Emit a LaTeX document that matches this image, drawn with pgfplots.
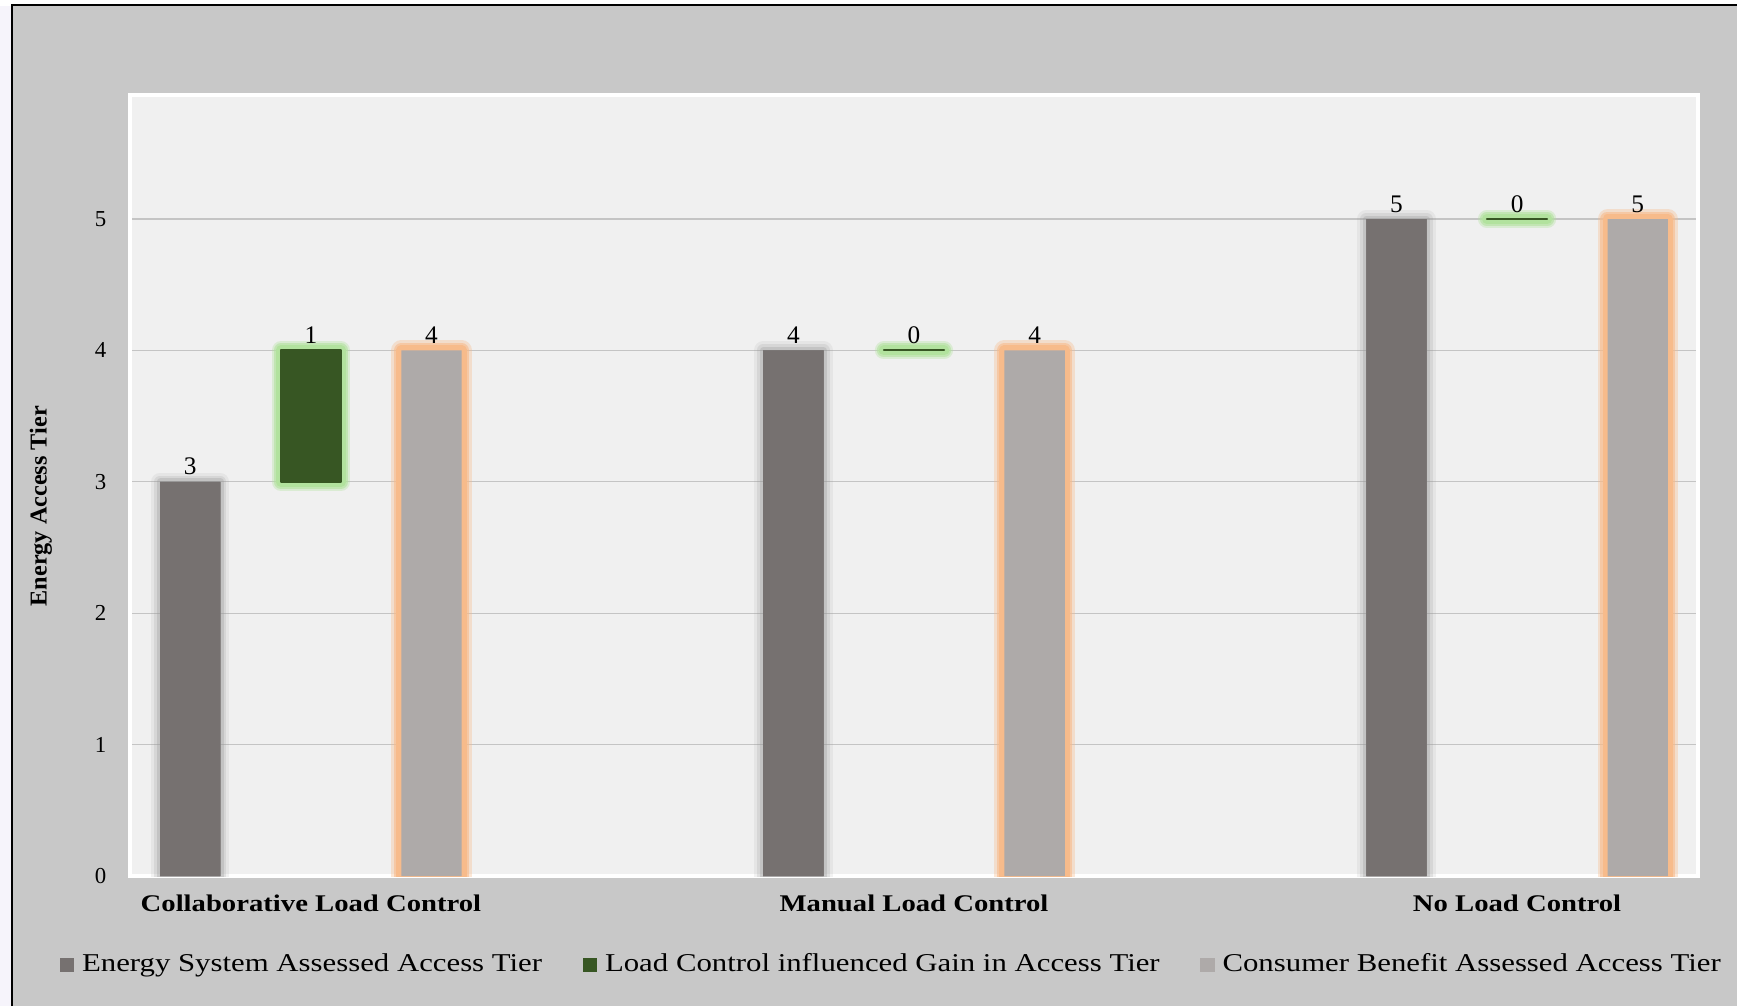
\documentclass[border=0pt]{standalone}
\usepackage{pgfplots}
\pgfplotsset{compat=1.18}
\usepackage{fontspec}
\setmainfont{Liberation Serif}[FakeStretch=1.2]
\newfontfamily\plainserif{Liberation Serif}

\definecolor{chartbg}{HTML}{C8C8C8}
\definecolor{panelbg}{HTML}{F0F0F0}
\definecolor{edgewash}{HTML}{F6F4FB}
\definecolor{systier}{HTML}{767170}
\definecolor{gaintier}{HTML}{375623}
\definecolor{benefittier}{HTML}{AEAAA9}
\definecolor{gainglow}{HTML}{B2E29E}
\definecolor{benefitglow}{HTML}{F7BB8B}
\definecolor{sysshadow}{HTML}{9A9A9A}
\definecolor{gridgray}{HTML}{C4C4C4}

\newcommand\tickfont{\plainserif\fontsize{6.5pt}{7pt}\selectfont}
\newcommand\valfont{\plainserif\fontsize{7.2pt}{8pt}\selectfont}
\newcommand\catfont{\fontsize{6.8pt}{8pt}\selectfont\bfseries}
\newcommand\legfont{\fontsize{7.3pt}{8.5pt}\selectfont}
\newcommand\ylabfont{\plainserif\fontsize{6.9pt}{8pt}\selectfont\bfseries}

\pgfplotsset{
  tierbar/.style={ybar, bar width=0.1, bar shift=0pt},
  % soft halo drawn underneath each bar
  halo/.style n args={3}{
    preaction={draw=#1, draw opacity=#2, line width=#3, line join=round},
  },
  valuelabels/.style={
    nodes near coords,
    nodes near coords style={font=\valfont, text=black, inner sep=0pt, anchor=south, yshift=0.6mm},
  },
  gainbar/.style={fill=gaintier, draw=gaintier, line width=0.2mm, line join=round, mark=none,
    halo={gainglow}{0.35}{1.8mm}, halo={gainglow}{0.6}{1.4mm}, halo={gainglow}{1}{1.0mm}},
}

\begin{document}
\begin{tikzpicture}
\useasboundingbox (0,0) rectangle (173.7mm,100.6mm);
\fill[white] (0,0) rectangle (173.7mm,100.6mm);
\fill[edgewash] (0,0) rectangle (1.15mm,100.0mm);
\fill[chartbg] (1.2mm,0) rectangle (173.7mm,100.1mm);
\draw[black, line width=0.22mm] (1.2mm,0) -- (1.2mm,100.1mm) -- (173.7mm,100.1mm);

% categories at x = 0 (collaborative), 1 (manual), 2 (no load control)
\begin{axis}[
  at={(13mm,13mm)}, anchor=south west,
  scale only axis, width=156.8mm, height=78.1mm,
  xmin=-0.3, xmax=2.3, ymin=0, ymax=5.944,
  axis background/.style={fill=panelbg},
  axis line style={draw=white, line width=0.45mm},
  ymajorgrids, major grid style={draw=gridgray, line width=0.12mm},
  ytick={0,1,2,3,4,5},
  major tick length=0pt,
  xtick={0,1,2},
  xticklabels={Collaborative Load Control, Manual Load Control, No Load Control},
  xticklabel style={font=\catfont, anchor=north, inner sep=0pt, yshift=-1.8mm},
  yticklabel style={font=\tickfont, anchor=east, inner sep=0pt, xshift=-2.3mm},
  /pgf/number format/assume math mode=true,
  ylabel={Energy Access Tier},
  ylabel style={font=\ylabfont, at={(axis description cs:-0.0568,0.4735)}, anchor=center},
  legend columns=3,
  legend image code/.code={\fill[#1, draw=none] (0mm,-0.72mm) rectangle (1.44mm,0.72mm);},
  legend style={at={(axis description cs:-0.0453,-0.114)}, anchor=west,
    draw=none, fill=none, inner sep=0pt, font=\legfont,
    nodes={inner sep=0pt},
    /tikz/every odd column/.append style={column sep=0.8mm},
    /tikz/every even column/.append style={column sep=4.05mm}},
]
\addlegendimage{fill=systier}
\addlegendentry{Energy System Assessed Access Tier}
\addlegendimage{fill=gaintier}
\addlegendentry{Load Control influenced Gain in Access Tier}
\addlegendimage{fill=benefittier}
\addlegendentry{Consumer Benefit Assessed Access Tier}

% energy system assessed tier
\addplot[tierbar, forget plot, draw=none, fill=systier,
  halo={sysshadow}{0.12}{1.8mm}, halo={sysshadow}{0.2}{1.2mm}, halo={sysshadow}{0.3}{0.7mm}]
  coordinates {(-0.2,3) (0.8,4) (1.8,5)};
\addplot[tierbar, forget plot, draw=none, fill=none, valuelabels]
  coordinates {(-0.2,3) (0.8,4) (1.8,5)};

% consumer benefit assessed tier
\addplot[tierbar, forget plot, draw=none, fill=benefittier,
  halo={benefitglow}{0.35}{2.0mm}, halo={benefitglow}{0.6}{1.5mm}, halo={benefitglow}{1}{1.0mm}]
  coordinates {(0.2,4) (1.2,4) (2.2,5)};
\addplot[tierbar, forget plot, draw=none, fill=none, valuelabels]
  coordinates {(0.2,4) (1.2,4) (2.2,5)};

% gain in tier, floating from the system tier (bottom) to the benefit tier (top)
\addplot[gainbar, forget plot] coordinates {(-0.05,3) (0.05,3) (0.05,4) (-0.05,4)} -- cycle;
\addplot[gainbar, forget plot] coordinates {(0.95,4) (1.05,4) (1.05,4) (0.95,4)} -- cycle;
\addplot[gainbar, forget plot] coordinates {(1.95,5) (2.05,5) (2.05,5) (1.95,5)} -- cycle;
\addplot[forget plot, draw=none, mark=none, point meta=explicit symbolic, valuelabels]
  coordinates {(0,4) [1] (1,4) [0] (2,5) [0]};
\end{axis}
\end{tikzpicture}
\end{document}
